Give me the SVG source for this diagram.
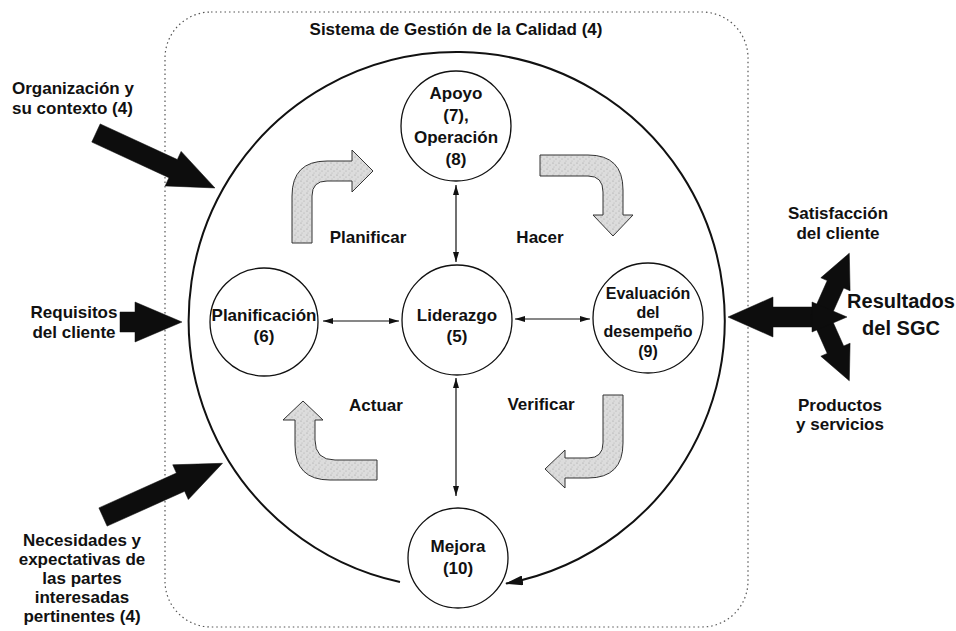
<svg xmlns="http://www.w3.org/2000/svg" width="956" height="631" viewBox="0 0 956 631">
<defs>
<style>
text{font-family:"Liberation Sans",Arial,Helvetica,sans-serif;font-weight:bold;font-size:17px;fill:#111}
.c{text-anchor:middle}
.node{fill:#fff;stroke:#111;stroke-width:1.3}
.thin{fill:none;stroke:#111;stroke-width:1.2}
.gray{fill:url(#stip);stroke:#333;stroke-width:1}
.blk{fill:#0d0d0d;stroke:#0d0d0d;stroke-width:0.5}
.sm16{font-size:16px}
</style>
<pattern id="stip" width="6" height="6" patternUnits="userSpaceOnUse">
<rect width="6" height="6" fill="#dcdcdc"/>
<circle cx="1" cy="1" r="0.6" fill="#9a9a9a"/>
<circle cx="4" cy="3" r="0.6" fill="#a8a8a8"/>
<circle cx="2" cy="5" r="0.5" fill="#b0b0b0"/>
</pattern>
<marker id="sm" viewBox="0 0 10 6" refX="10" refY="3" markerWidth="10" markerHeight="6" markerUnits="userSpaceOnUse" orient="auto-start-reverse">
<path d="M0,0 L10,3 L0,6 Z" fill="#111"/>
</marker>
<marker id="big" viewBox="0 0 18 10" refX="17" refY="5" markerWidth="18" markerHeight="10" markerUnits="userSpaceOnUse" orient="auto">
<path d="M0,0 L18,5 L0,10 Z" fill="#111"/>
</marker>
</defs>

<rect x="165" y="12" width="583" height="615" rx="46" ry="46" fill="none" stroke="#555" stroke-width="1.2" stroke-dasharray="1.5 3"/>
<text class="c" x="456" y="35">Sistema de Gestión de la Calidad (4)</text>

<g id="connectors">
<path d="M400,582 A268,268 0 1 1 506,583.5" fill="none" stroke="#111" stroke-width="2" marker-end="url(#big)"/>
<line class="thin" x1="456" y1="185" x2="456" y2="262" marker-start="url(#sm)" marker-end="url(#sm)"/>
<line class="thin" x1="456" y1="378" x2="456" y2="496" marker-start="url(#sm)" marker-end="url(#sm)"/>
<line class="thin" x1="323" y1="321" x2="399" y2="321" marker-start="url(#sm)" marker-end="url(#sm)"/>
<line class="thin" x1="515" y1="319" x2="590" y2="319" marker-start="url(#sm)" marker-end="url(#sm)"/>
</g>

<g id="cycle-arrows">
<path class="gray" d="M292,243 L292,196 Q292,161 327,161 L352,161 L352,150 L373,171 L352,192 L352,181 L327,181 Q312,181 312,196 L312,243 Z"/>
<path class="gray" d="M540,155 L588,155 Q623,155 623,190 L623,215 L633,215 L613,236 L593,215 L603,215 L603,192 Q603,176 588,176 L540,176 Z"/>
<path class="gray" d="M603,395 L623,395 L623,443 Q623,478 588,478 L565,478 L565,488 L545,469 L565,450 L565,458 L588,458 Q603,458 603,443 Z"/>
<path class="gray" d="M377,460 L335,460 Q315,460 315,440 L315,420 L323,420 L303,401 L283,420 L295,420 L295,445 Q295,480 330,480 L377,480 Z"/>
<text class="c" x="368" y="243">Planificar</text>
<text class="c" x="540" y="243">Hacer</text>
<text class="c" x="376" y="411">Actuar</text>
<text class="c" x="541" y="410">Verificar</text>
</g>

<g id="apoyo">
<circle class="node" cx="456" cy="126" r="55"/>
<text class="c" x="456" y="99">Apoyo</text>
<text class="c" x="456" y="121">(7),</text>
<text class="c" x="456" y="143">Operación</text>
<text class="c" x="456" y="165">(8)</text>
</g>

<g id="planificacion">
<circle class="node" cx="264" cy="322" r="54"/>
<text class="c" x="264" y="321">Planificación</text>
<text class="c" x="264" y="342">(6)</text>
</g>

<g id="liderazgo">
<circle class="node" cx="457" cy="320" r="55"/>
<text class="c" x="457" y="321">Liderazgo</text>
<text class="c" x="457" y="342">(5)</text>
</g>

<g id="evaluacion">
<circle class="node" cx="648" cy="318" r="55"/>
<text class="c sm16" x="648" y="299">Evaluación</text>
<text class="c sm16" x="648" y="318">del</text>
<text class="c sm16" x="648" y="337">desempeño</text>
<text class="c sm16" x="648" y="357">(9)</text>
</g>

<g id="mejora">
<circle class="node" cx="458" cy="558" r="50"/>
<text class="c" x="458" y="552">Mejora</text>
<text class="c" x="458" y="574">(10)</text>
</g>

<g id="organizacion">
<path class="blk" transform="translate(96,133) rotate(24.8)" d="M0,-10 L85,-10 L85,-19 L131,0 L85,19 L85,10 L0,10 Z"/>
<text x="12" y="94">Organización y</text>
<text x="12" y="114">su contexto (4)</text>
</g>

<g id="requisitos">
<path class="blk" d="M120,312 L135,312 L135,302 L182,322 L135,342 L135,332 L120,332 Z"/>
<text class="c" x="74" y="318">Requisitos</text>
<text class="c" x="74" y="338">del cliente</text>
</g>

<g id="necesidades">
<path class="blk" transform="translate(103,517) rotate(-24.2)" d="M0,-10 L85,-10 L85,-19 L131,0 L85,19 L85,10 L0,10 Z"/>
<text class="c" x="82" y="546">Necesidades y</text>
<text class="c" x="82" y="565">expectativas de</text>
<text class="c" x="82" y="584">las partes</text>
<text class="c" x="82" y="603">interesadas</text>
<text class="c" x="82" y="622">pertinentes (4)</text>
</g>

<g id="resultados">
<path class="blk" transform="translate(820,317) rotate(180)" d="M0,-10 L47,-10 L47,-20 L92,0 L47,20 L47,10 L0,10 Z"/>
<path class="blk" transform="translate(820,319) rotate(-66)" d="M-4,-9 L38,-9 L38,-16 L72,0 L38,16 L38,9 L-4,9 Z"/>
<path class="blk" transform="translate(820,315) rotate(66)" d="M-4,-9 L38,-9 L38,-16 L72,0 L38,16 L38,9 L-4,9 Z"/>
<path class="blk" d="M812,302 L847,317 L812,332 Z"/>
<text class="c" x="838" y="219">Satisfacción</text>
<text class="c" x="838" y="239">del cliente</text>
<text class="c" x="901" y="308" style="font-size:20px">Resultados</text>
<text class="c" x="901" y="335" style="font-size:20px">del SGC</text>
<text class="c" x="840" y="411">Productos</text>
<text class="c" x="840" y="430">y servicios</text>
</g>
</svg>
